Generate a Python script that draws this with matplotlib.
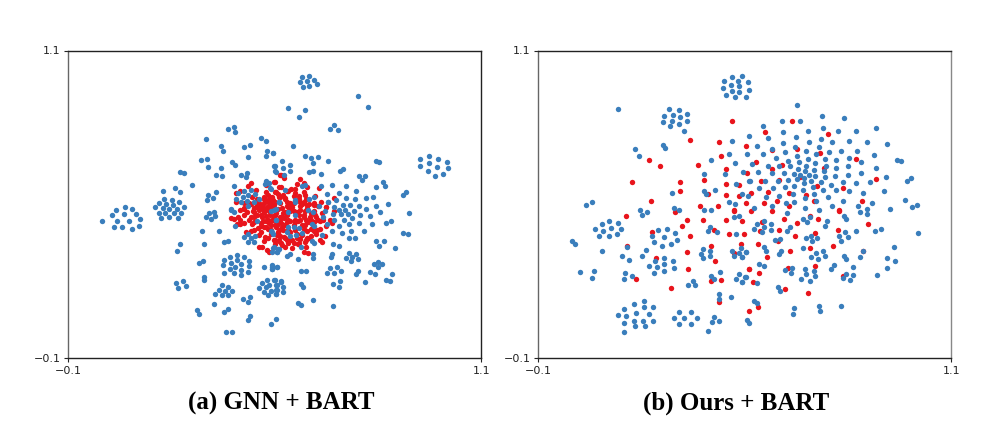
import numpy as np
import matplotlib as mpl
mpl.use('Agg')
import matplotlib.pyplot as plt

# values, (x, y)
a_blue = np.array([
(.366,.794),(.383,.803),(.386,.783),(.301,.755),(.461,.757),(.475,.748),(.345,.729),(.349,.709),(.412,.725),(.427,.732),
(.478,.709),(.495,.699),(.475,.690),(.422,.686),(.286,.673),(.304,.677),(.377,.664),(.386,.653),(.306,.644),(.343,.640),
(.500,.651),(.503,.627),(.226,.627),(.238,.621),(.330,.614),(.347,.612),(.403,.614),(.420,.621),(.417,.605),(.474,.591),
(.471,.579),(.485,.582),(.259,.575),(.383,.573),(.212,.562),(.226,.549),(.175,.553),(.330,.549),(.306,.538),(.304,.517),
(.322,.524),(.180,.520),(.202,.517),(.163,.504),(.184,.501),(.204,.497),(.223,.508),(.153,.488),(.175,.484),(.194,.482),
(.217,.482),(.236,.488),(.039,.478),(.066,.491),(.087,.481),(.372,.481),(.393,.542),(.410,.552),(.430,.556),(.444,.540),
(.408,.527),(.422,.536),(.388,.520),(.403,.508),(.420,.514),(.440,.507),(.454,.521),(.423,.495),(.488,.560),(.512,.508),
(.000,.436),(.029,.459),(.063,.462),(.097,.462),(.109,.443),(.043,.436),(.078,.436),(.034,.413),(.058,.410),(.085,.404),
(.107,.417),(.163,.465),(.183,.465),(.207,.465),(.228,.465),(.170,.445),(.194,.449),(.220,.445),(.309,.465),(.325,.470),
(.301,.449),(.315,.443),(.327,.453),(.288,.397),(.337,.397),(.225,.343),(.216,.319),(.296,.345),(.352,.352),(.364,.356),
(.279,.271),(.291,.280),(.391,.302),(.369,.293),(.410,.293),(.352,.283),(.391,.283),(.425,.278),(.374,.271),(.403,.267),
(.349,.261),(.386,.254),(.425,.258),(.369,.248),(.403,.244),(.354,.232),(.381,.232),(.422,.236),(.403,.222),(.469,.254),
(.493,.261),(.493,.248),(.508,.254),(.294,.215),(.296,.205),(.214,.193),(.233,.202),(.218,.174),(.243,.180),(.347,.183),
(.337,.167),(.364,.176),(.356,.161),(.377,.161),(.327,.148),(.347,.144),(.366,.144),(.478,.205),(.500,.205),(.464,.192),
(.485,.185),(.517,.198),(.454,.174),(.474,.176),(.506,.183),(.488,.163),(.506,.167),(.469,.157),(.482,.144),(.505,.148),
(.408,.131),(.427,.137),(.424,.118),(.325,.111),(.274,.089),(.279,.072),(.352,.081),(.366,.092),(.427,.063),(.424,.049),
(.505,.053),(.490,.031),(.359,.003),(.376,.001),(.372,.478),(.381,.469),(.386,.417),(.449,.436),(.490,.475),(.505,.481),
(.505,.439),(.490,.397),(.495,.384),(.423,.384),(.412,.371),(.430,.369),(.444,.378),(.422,.352),(.441,.354),(.498,.332),
(.507,.315),(.512,.326),(.493,.315),
(.890,.466),(.828,.501),(.793,.495),(.807,.469),(.778,.453),(.766,.482),(.746,.495),(.748,.460),(.838,.434),(.824,.427),
(.783,.421),(.746,.427),(.717,.423),(.725,.447),(.730,.475),(.712,.462),(.704,.478),(.688,.478),(.693,.462),(.720,.499),
(.698,.499),(.671,.488),(.668,.462),(.673,.440),(.700,.440),(.688,.417),(.652,.423),(.666,.397),(.696,.388),(.722,.395),
(.759,.397),(.715,.369),(.734,.369),(.872,.388),(.887,.382),(.794,.356),(.817,.356),(.804,.336),(.848,.330),(.668,.345),
(.686,.339),(.717,.310),(.736,.306),(.725,.293),(.708,.291),(.741,.287),(.722,.278),(.666,.306),(.664,.293),(.610,.304),
(.610,.291),(.545,.306),(.537,.297),(.567,.287),(.788,.267),(.799,.275),(.812,.267),(.799,.257),(.662,.252),(.681,.254),
(.693,.241),(.652,.232),(.673,.232),(.741,.239),(.736,.228),(.778,.235),(.790,.228),(.841,.228),(.576,.239),(.591,.239),
(.492,.257),(.506,.254),(.492,.248),(.499,.205),(.518,.200),(.824,.205),(.836,.202),(.691,.200),(.763,.196),(.670,.189),
(.688,.176),(.576,.187),(.581,.176),(.523,.176),(.503,.183),(.503,.167),(.523,.157),(.503,.148),(.612,.128),(.569,.114),
(.576,.105),(.670,.101),(.514,.508),(.560,.510),(.499,.478),(.540,.469),(.560,.458),(.503,.440),(.597,.478),(.610,.469),
(.628,.495),(.647,.475),(.654,.508),(.639,.449),(.613,.417),(.608,.423),(.540,.410),(.557,.413),(.572,.406),(.545,.378),
(.562,.380),(.579,.387),(.535,.391),(.637,.380),(.608,.358),(.615,.349),(.576,.335),(.495,.331),(.511,.326),(.506,.313),
(.492,.391),
(.579,.995),(.600,1.002),(.574,.976),(.594,.982),(.613,.986),(.623,.969),(.581,.956),(.600,.963),(.743,.924),(.772,.878),
(.540,.876),(.589,.869),(.571,.839),(.673,.811),(.662,.794),(.683,.791),(.552,.729),(.494,.699),(.589,.690),(.605,.681),
(.625,.683),(.612,.661),(.654,.668),(.521,.668),(.499,.651),(.523,.642),(.545,.655),(.502,.629),(.545,.631),(.610,.631),
(.600,.625),(.634,.618),(.697,.638),(.691,.629),(.526,.616),(.793,.670),(.804,.664),(.923,.677),(.948,.690),(.975,.677),
(.999,.664),(.923,.648),(.948,.661),(.972,.644),(1.004,.642),(.945,.629),(.967,.612),(.989,.618),(.744,.609),(.761,.612),
(.754,.595),(.814,.586),(.819,.573),(.793,.566),(.634,.573),(.666,.575),(.707,.573),(.736,.551),(.686,.544),(.652,.540),
(.872,.538),(.880,.547),(.707,.525),(.765,.525),(.785,.527),(.678,.518),(.654,.508),(.734,.521),(.589,.575),(.579,.573),
(.531,.556),(.487,.562),(.560,.517),(.513,.508),(.600,.521),(.613,.527),
])

a_red = np.array([
(.430,.582),(.422,.573),(.500,.586),(.398,.553),(.388,.543),(.447,.556),(.476,.549),(.503,.546),(.435,.530),(.469,.530),
(.388,.510),(.449,.491),(.469,.504),(.483,.517),(.493,.530),(.512,.530),(.478,.491),(.498,.497),(.411,.484),(.440,.484),
(.459,.484),(.517,.614),(.474,.575),(.512,.569),(.374,.445),(.381,.443),(.395,.452),(.391,.423),(.398,.423),(.412,.426),
(.435,.421),(.438,.475),(.411,.481),(.398,.478),(.432,.452),(.449,.494),(.464,.498),(.456,.478),(.469,.472),(.449,.458),
(.464,.449),(.483,.504),(.478,.484),(.486,.458),(.474,.433),(.498,.452),(.459,.426),(.451,.406),(.474,.410),(.488,.420),
(.507,.426),(.512,.400),(.432,.397),(.417,.391),(.454,.380),(.471,.374),(.507,.380),(.498,.361),(.514,.361),(.454,.335),
(.462,.335),(.478,.322),(.483,.313),(.517,.348),
(.647,.378),(.633,.404),(.605,.378),(.589,.352),(.567,.343),(.513,.358),(.591,.332),(.584,.313),(.596,.310),(.633,.361),
(.637,.354),(.540,.348),(.545,.361),(.511,.387),(.526,.374),(.565,.368),(.594,.394),(.589,.420),(.633,.433),(.618,.458),
(.605,.439),(.584,.452),(.569,.433),(.545,.433),(.526,.445),(.506,.420),(.521,.423),(.502,.458),(.521,.484),(.540,.491),
(.574,.478),(.594,.498),(.613,.498),(.649,.488),(.660,.439),(.671,.472),(.666,.426),(.574,.510),(.536,.510),(.492,.439),
(.623,.400),(.560,.439),(.579,.420),(.531,.420),(.555,.472),(.516,.452),(.536,.458),(.603,.452),(.637,.465),(.589,.472),
(.613,.394),
(.526,.603),(.516,.616),(.574,.599),(.565,.579),(.584,.582),(.594,.569),(.499,.586),(.518,.569),(.547,.560),(.584,.549),
(.589,.536),(.502,.547),(.535,.553),(.618,.531),(.630,.562),(.671,.525),(.634,.508),(.516,.530),(.531,.524),(.555,.534),
(.571,.534),(.487,.530),(.492,.510),(.545,.504),(.584,.508),(.613,.504),(.649,.491),
# centre of the blob, too dense to read one by one
(.47,.47),(.49,.49),(.51,.48),(.53,.47),(.55,.49),(.57,.46),(.59,.44),(.52,.45),(.54,.44),(.56,.43),
(.48,.44),(.50,.42),(.52,.41),(.54,.40),(.56,.40),(.58,.38),(.50,.46),(.46,.46),(.44,.43),(.47,.41),
(.49,.40),(.51,.39),(.53,.37),(.55,.36),(.57,.35),(.59,.36),(.61,.41),(.60,.43),(.62,.45),(.58,.50),
(.53,.52),(.50,.51),(.47,.52),(.51,.54),(.54,.55),(.57,.52),(.59,.52),(.56,.56),(.45,.52),(.43,.50),
(.42,.47),(.44,.45),(.46,.49),(.48,.37),(.46,.39),(.44,.40),(.52,.34),(.50,.36),(.55,.33),(.60,.37),
(.455,.505),(.475,.515),(.495,.515),(.515,.505),(.535,.495),(.555,.505),(.575,.495),(.595,.485),(.615,.475),(.465,.485),
(.485,.475),(.505,.465),(.525,.465),(.545,.475),(.565,.47),(.585,.46),(.605,.465),(.625,.44),(.475,.455),(.495,.44),
(.515,.435),(.535,.43),(.555,.42),(.575,.44),(.595,.43),(.615,.43),(.465,.435),(.485,.425),(.505,.41),(.525,.40),
(.545,.39),(.565,.385),(.585,.405),(.605,.405),(.48,.405),(.46,.415),(.49,.385),(.515,.375),(.535,.36),(.555,.35),
(.575,.365),(.595,.37),(.62,.385),(.44,.47),(.425,.44),(.41,.46),(.40,.44),(.445,.505),(.425,.505),(.41,.505),
(.48,.535),(.525,.535),(.56,.545),(.60,.50),(.625,.495),(.64,.44),(.65,.415),(.53,.335),(.50,.345),(.47,.355),
])

b_blue = np.array([
(.493,1.002),(.464,.995),(.440,.980),(.480,.980),(.509,.976),(.461,.967),(.485,.960),(.437,.954),(.464,.943),(.485,.937),
(.512,.946),(.446,.928),(.471,.917),(.505,.917),(.133,.872),(.280,.872),(.309,.868),(.267,.846),(.291,.850),(.333,.852),
(.311,.839),(.262,.820),(.289,.826),(.333,.826),(.309,.813),(.284,.804),(.323,.785),(.512,.768),(.464,.746),(.262,.733),
(.270,.720),(.183,.716),(.194,.690),(.456,.696),(.507,.696),(.403,.674),(.471,.661),(.381,.618),(.442,.618),(.495,.625),
(.474,.579),(.514,.590),(.415,.557),(.381,.553),(.289,.544),(.388,.540),(.493,.540),(.509,.531),(.456,.508),(.471,.501),
(.039,.499),(.058,.508),(.197,.478),(.294,.484),(.309,.478),(.383,.478),(.401,.476),
(.652,.889),(.725,.846),(.788,.837),(.608,.826),(.662,.824),(.552,.807),(.728,.798),(.880,.798),(.610,.781),(.684,.785),
(.771,.785),(.822,.787),(.568,.759),(.650,.761),(.723,.755),(.610,.739),(.686,.742),(.754,.742),(.802,.746),(.856,.742),
(.914,.735),(.536,.729),(.579,.716),(.647,.725),(.717,.722),(.618,.703),(.678,.709),(.746,.703),(.781,.709),(.827,.709),
(.552,.696),(.652,.690),(.707,.696),(.875,.694),(.591,.681),(.684,.677),(.732,.677),(.626,.670),(.765,.674),(.802,.681),
(.839,.664),(.941,.674),(.955,.670),(.521,.657),(.657,.664),(.705,.661),(.568,.651),(.599,.651),(.631,.648),(.735,.651),
(.678,.648),(.655,.638),(.700,.635),(.766,.642),(.800,.648),(.880,.642),(.676,.631),(.731,.631),(.540,.625),(.579,.621),
(.613,.622),(.642,.618),(.839,.622),(.686,.614),(.662,.614),(.800,.614),(.763,.609),(.734,.605),(.705,.609),(.909,.605),
(.982,.603),(.652,.599),(.673,.601),(.625,.595),(.560,.592),(.597,.592),(.516,.590),(.694,.592),(.671,.583),(.723,.586),
(.786,.586),(.824,.583),(.865,.586),(.972,.590),(.752,.577),(.616,.568),(.644,.573),(.698,.568),(.542,.564),(.581,.564),
(.669,.557),(.727,.557),(.766,.557),(.802,.551),(.904,.551),(.640,.540),(.700,.540),(.844,.544),(.563,.529),(.601,.534),
(.674,.525),(.742,.527),(.708,.512),(.786,.514),(.965,.518),(.621,.505),(.642,.508),(.870,.505),(.754,.495),(.829,.495),
(1.000,.499),(.987,.488),(.579,.492),(.528,.484),(.676,.484),(.854,.482),(.922,.482),(.717,.478),
(.217,.469),(.202,.460),(.469,.449),(.485,.453),(.105,.434),(.131,.427),(.085,.423),(.112,.408),(.066,.404),(.141,.404),
(.090,.397),(.078,.378),(.105,.378),(.129,.382),(.398,.410),(.393,.397),(.420,.393),(.474,.382),(.248,.401),(.275,.404),
(.231,.378),(.299,.388),(.267,.371),(.304,.362),(.238,.352),(.260,.339),(.286,.343),(.000,.356),(.008,.343),(.158,.332),
(.085,.319),(.214,.323),(.378,.326),(.398,.317),(.374,.306),(.398,.297),(.378,.291),(.488,.330),(.464,.319),(.483,.310),
(.505,.314),(.469,.297),(.493,.293),(.144,.297),(.202,.300),(.163,.284),(.265,.291),(.241,.278),(.291,.278),(.267,.265),
(.223,.258),(.246,.254),(.294,.252),(.267,.239),(.238,.232),(.023,.235),(.063,.239),(.058,.213),(.153,.232),(.150,.209),
(.173,.219),(.427,.235),(.401,.219),(.411,.209),(.485,.228),(.503,.215),(.475,.209),(.493,.196),(.349,.202),(.335,.183),
(.357,.183),(.425,.150),(.425,.131),(.459,.137),(.207,.122),(.178,.109),(.150,.092),(.207,.098),(.233,.098),(.185,.076),
(.223,.072),(.131,.066),(.155,.063),(.309,.079),(.343,.081),(.294,.057),(.325,.057),(.362,.057),(.411,.059),(.406,.040),
(.425,.046),(.178,.044),(.204,.046),(.233,.046),(.150,.037),(.183,.024),(.212,.024),(.309,.031),(.343,.031),(.150,.001),
(.393,.005),(.507,.050),(.514,.037),
(.623,.466),(.836,.469),(.856,.462),(.669,.443),(.689,.449),(.681,.430),(.739,.434),(.732,.417),(.788,.456),(.794,.443),
(.557,.436),(.536,.423),(.577,.423),(.555,.413),(.528,.404),(.577,.401),(.550,.391),(.633,.410),(.623,.395),(.822,.395),
(.878,.397),(.897,.404),(1.004,.388),(.791,.391),(.773,.378),(.800,.371),(.781,.358),(.694,.378),(.679,.369),(.710,.369),
(.696,.356),(.603,.365),(.587,.362),(.557,.332),(.562,.317),(.503,.314),(.492,.293),(.606,.319),(.599,.306),(.669,.330),
(.708,.310),(.728,.317),(.694,.293),(.713,.287),(.732,.297),(.788,.300),(.793,.287),(.834,.293),(.844,.319),(.933,.332),
(.914,.291),(.936,.280),(.914,.252),(.815,.254),(.759,.261),(.752,.248),(.542,.265),(.555,.258),(.637,.252),(.618,.245),
(.634,.232),(.676,.248),(.700,.239),(.679,.226),(.705,.219),(.664,.209),(.689,.202),(.795,.228),(.815,.222),(.786,.213),
(.805,.206),(.885,.222),(.502,.215),(.492,.196),(.536,.193),(.597,.176),(.603,.163),(.526,.122),(.537,.115),(.642,.096),
(.640,.072),(.715,.102),(.720,.083),(.781,.102),
])

b_red = np.array([
(.464,.824),(.340,.752),(.425,.742),(.503,.729),(.432,.690),(.223,.674),(.255,.648),(.364,.655),(.446,.638),(.507,.622),
(.381,.596),(.173,.586),(.313,.586),(.446,.579),(.483,.577),(.313,.553),(.393,.540),(.446,.538),(.485,.531),(.228,.514),
(.503,.505),(.369,.492),(.422,.492),(.469,.478),
(.637,.826),(.558,.781),(.742,.774),(.652,.716),(.579,.712),(.718,.700),(.822,.677),(.534,.664),(.608,.655),(.579,.638),
(.730,.642),(.880,.599),(.601,.596),(.548,.590),(.662,.608),(.710,.573),(.786,.564),(.519,.544),(.569,.547),(.628,.544),
(.679,.538),(.594,.514),(.700,.514),(.841,.512),(.557,.505),(.628,.495),(.773,.478),
(.155,.456),(.299,.469),(.333,.440),(.378,.440),(.446,.440),(.493,.436),(.469,.475),(.318,.414),(.411,.401),(.231,.391),
(.340,.378),(.454,.384),(.498,.384),(.403,.339),(.490,.345),(.158,.336),(.333,.313),(.469,.309),(.243,.291),(.415,.278),
(.335,.248),(.512,.248),(.185,.209),(.401,.202),(.430,.206),(.286,.174),(.425,.118),(.512,.085),
(.518,.473),(.579,.473),(.773,.475),(.613,.443),(.652,.427),(.689,.456),(.713,.443),(.858,.423),(.550,.432),(.545,.397),
(.599,.401),(.771,.401),(.647,.378),(.703,.388),(.597,.358),(.540,.345),(.757,.336),(.689,.330),(.631,.319),(.844,.319),
(.565,.293),(.703,.258),(.626,.252),(.513,.248),(.542,.232),(.786,.219),(.524,.196),(.616,.170),(.684,.154),(.540,.100),
])

ticks = [-0.1, 1.1]
captions = ['(a) GNN + BART', '(b) Ours + BART']
caption_mid = [281.5, 736.5]

blue = '#3a7ebc'
red = '#e8141c'

W, H = 1006, 433
fig = plt.figure(figsize=(W/100, H/100), dpi=100)

ax1 = fig.add_axes([68/W, (H-358)/H, 413.3/W, 307.5/H])
ax2 = fig.add_axes([538/W, (H-358)/H, 413.3/W, 307.5/H])

for ax, pts_b, pts_r, cap, mid in zip([ax1, ax2], [a_blue, b_blue], [a_red, b_red], captions, caption_mid):
    ax.scatter(pts_r[:, 0], pts_r[:, 1], s=15, c=red, linewidths=0)
    ax.scatter(pts_b[:, 0], pts_b[:, 1], s=15, c=blue, linewidths=0)
    ax.set_xlim(-0.1, 1.1)
    ax.set_ylim(-0.1, 1.1)
    ax.set_xticks(ticks)
    ax.set_yticks(ticks)
    ax.tick_params(labelsize=8, length=3, width=0.8, pad=2.5, colors='#222222')
    for s in ax.spines.values():
        s.set_color('#222222')
        s.set_linewidth(1.0)
    # caption below the axes
    fig.text(mid/W, (H-403)/H, cap, ha='center', va='center',
             family='Liberation Serif', weight='bold', fontsize=18, color='black')

ax1.spines['left'].set_color('#666666')
ax2.spines['left'].set_color('#666666')
ax2.spines['right'].set_color('#888888')

fig.savefig('out.png', dpi=100)
